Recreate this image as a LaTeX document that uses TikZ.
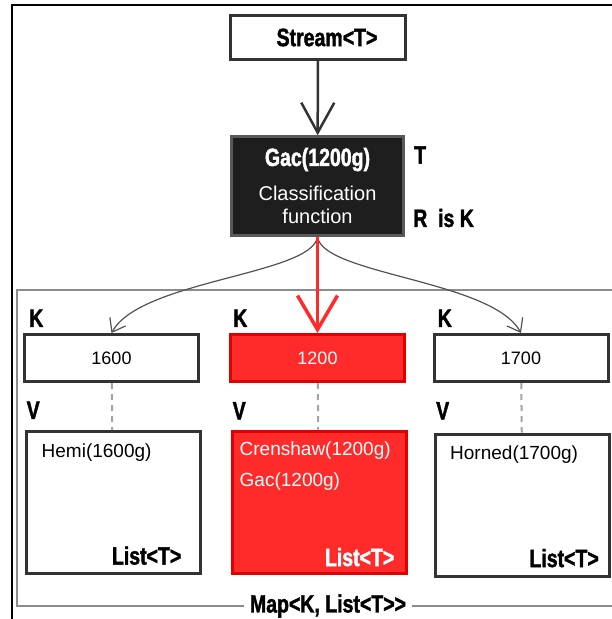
\documentclass[tikz,border=0pt]{standalone}
\usepackage{fontspec}
\setmainfont{Liberation Sans}
\newfontfamily\heavyfont[FakeStretch=0.78,BoldFeatures={FakeBold=1.6}]{Liberation Sans}
\usetikzlibrary{arrows.meta,positioning}
\definecolor{InkGray}{HTML}{333333}
\definecolor{FrameGray}{HTML}{8C8C8C}
\definecolor{HotRed}{HTML}{FF2A2A}
\definecolor{HotEdge}{HTML}{E00000}
\definecolor{NightFill}{HTML}{1E1E1E}
\newcommand{\heavy}{\heavyfont\bfseries\fontsize{25}{27}\selectfont}

\begin{document}
\begin{tikzpicture}[
  x=1pt,y=-1pt,
  plainbox/.style={rectangle,draw=InkGray,line width=3pt,fill=white,minimum width=175pt,minimum height=44pt,inner sep=0pt,font=\heavy},
  funcbox/.style={rectangle,draw=gray!70!black,line width=2.5pt,fill=NightFill,minimum width=172pt,minimum height=99pt,align=center,text=white,font=\fontsize{20}{23}\selectfont},
  keybox/.style={rectangle,draw=InkGray,line width=3pt,fill=white,minimum width=174pt,minimum height=47pt,font=\fontsize{18}{20}\selectfont},
  hotkey/.style={keybox,draw=HotEdge,fill=HotRed,text=white},
  valbox/.style={rectangle,draw=InkGray,line width=3pt,fill=white,minimum width=174pt,minimum height=142pt},
  hotval/.style={valbox,draw=HotEdge,fill=HotRed},
  valtext/.style={inner sep=0pt,anchor=north west,align=left,font=\fontsize{19}{31}\selectfont},
  tag/.style={inner sep=0pt,font=\heavy},
  arrow/.style={-{Straight Barb[length=30pt,width=33pt]},line width=2.5pt,color=InkGray},
  hotarrow/.style={-{Straight Barb[length=34pt,width=40pt]},line width=3.5pt,color=HotRed},
  branch/.style={-{Straight Barb[length=12pt,width=18pt]},line width=1.2pt,color=InkGray!85},
  link/.style={line width=2pt,dash pattern=on 6pt off 5pt,color=FrameGray!80}
]
\useasboundingbox (0,0) rectangle (612,619);
\draw[line width=2.5pt] (12,621) -- (12,5) -- (614,5);

% source and classifier
\node[plainbox] (stream) at (318,37.5) {\hspace*{18pt}Stream<T>};
\node[funcbox] (gac) at (317.5,186) {{\heavy Gac(1200g)}\\[12pt]Classification\\function};
\node[tag,anchor=west] (tin) at (414,155) {T};
\node[tag,anchor=west] (rout) at (413,218) {R\ \ is K};

% the map
\draw[line width=1.5pt,color=FrameGray] (614,290) -- (17,290) -- (17,606) -- (614,606);
\node[tag,fill=white,inner xsep=6pt] (maplabel) at (328,606) {Map<K, List<T>>};

% keys
\node[keybox] (k1600) at (111.5,358) {1600};
\node[hotkey] (k1200) at (317.5,358) {1200};
\node[keybox] (k1700) at (521,358) {1700};
\node[tag,anchor=south west] (kname1600) at ([shift={(6,-6)}]k1600.north west) {K};
\node[tag,anchor=south west] (kname1200) at ([shift={(4,-6)}]k1200.north west) {K};
\node[tag,anchor=south west] (kname1700) at ([shift={(5,-6)}]k1700.north west) {K};

% values
\node[valbox] (v1600) at (113,502.5) {};
\node[hotval] (v1200) at (319,502) {};
\node[valbox] (v1700) at (522.5,505) {};
\node[tag,anchor=south west] (vname1600) at ([shift={(2,-11)}]v1600.north west) {V};
\node[tag,anchor=south west] (vname1200) at ([shift={(2,-10)}]v1200.north west) {V};
\node[tag,anchor=south west] (vname1700) at ([shift={(2,-13)}]v1700.north west) {V};
\node[valtext] (hemi) at ([shift={(17,14)}]v1600.north west) {Hemi(1600g)};
\node[valtext,text=white] (gacs) at ([shift={(9,12)}]v1200.north west) {Crenshaw(1200g)\\Gac(1200g)};
\node[valtext] (horned) at ([shift={(16,13)}]v1700.north west) {Horned(1700g)};
\node[tag,anchor=south east] (list1600) at ([shift={(-20,-10)}]v1600.south east) {List<T>};
\node[tag,anchor=south east,text=white] (list1200) at ([shift={(-13,-8)}]v1200.south east) {List<T>};
\node[tag,anchor=south east] (list1700) at ([shift={(-12,-10)}]v1700.south east) {List<T>};

% connectors
\draw[arrow] (stream) -- (gac);
\draw[branch] (gac.south) .. controls +(-5,38) and +(29,-53) .. (k1600.north);
\draw[branch] (gac.south) .. controls +(5,38) and +(-29,-53) .. (k1700.north);
\draw[hotarrow] (gac) -- (k1200);
\draw[link] (k1600) -- (v1600);
\draw[link] (k1200) -- (v1200);
\draw[link] (k1700) -- (v1700);
\end{tikzpicture}
\end{document}
